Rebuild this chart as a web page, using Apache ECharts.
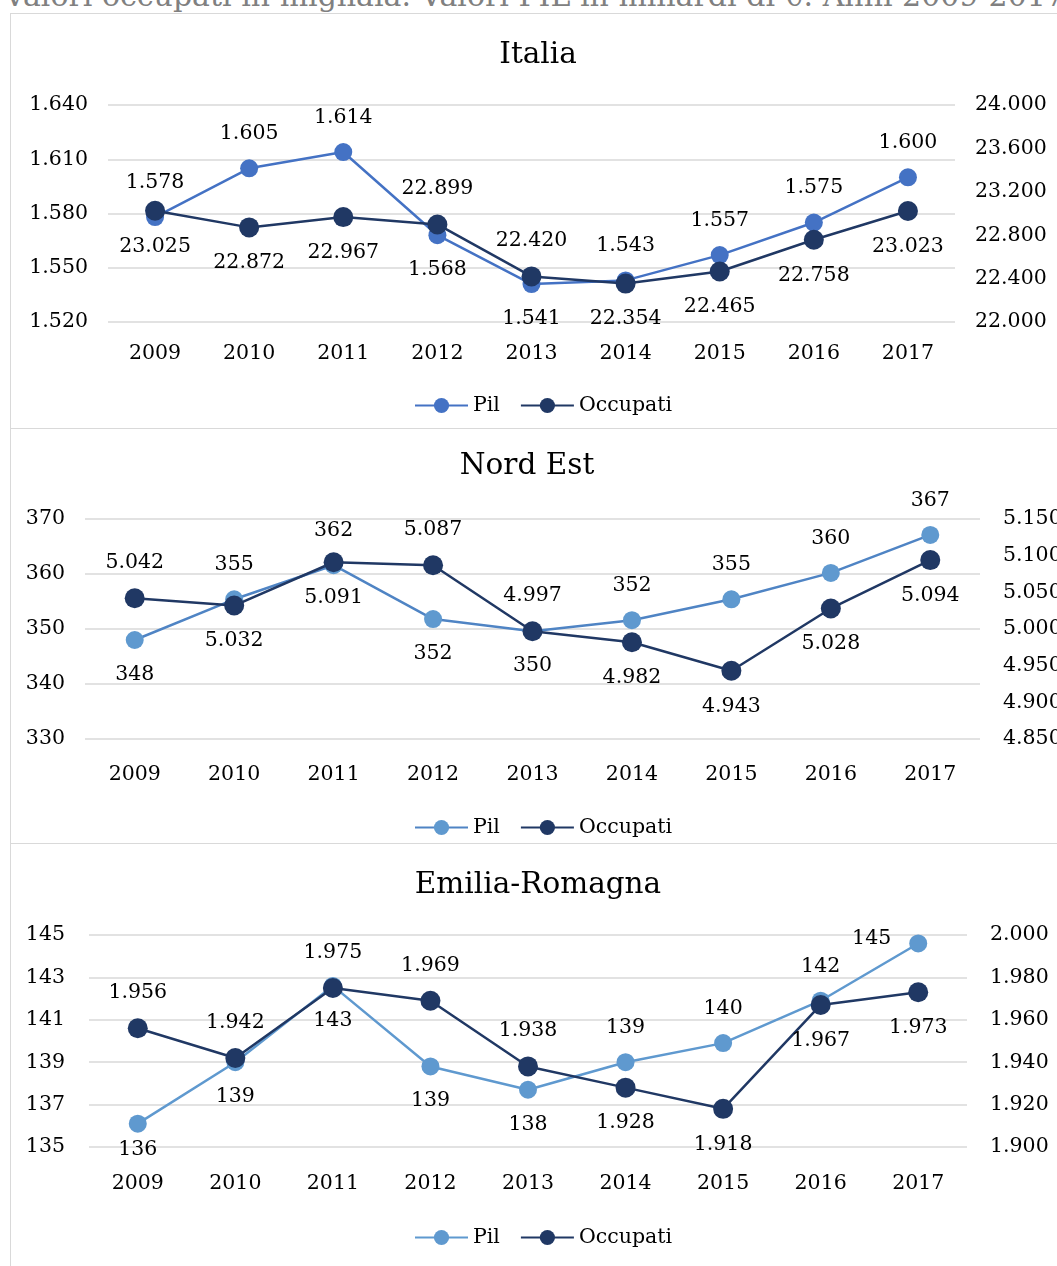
<!DOCTYPE html>
<html>
<head>
<meta charset="utf-8">
<script src="https://cdn.jsdelivr.net/npm/echarts@6/dist/echarts.min.js"></script>
<style>
  body { margin: 0; background: #fff; overflow: hidden; width: 1057px; height: 1266px; position: relative; }
  .note { position: absolute; left: 4px; top: -19px; font: 30px/30px "DejaVu Serif"; color: #808080; white-space: nowrap; }
  .panel { position: absolute; left: 10px; width: 1100px; border: 1px solid #d9d9d9; }
</style>
</head>
<body>
<div class="note">Valori occupati in migliaia. Valori PIL in miliardi di €. Anni 2009-2017</div>
<div id="italia" class="panel" style="top:13px;height:414px"></div>
<div id="nordest" class="panel" style="top:428px;height:414px"></div>
<div id="emilia" class="panel" style="top:843px;height:440px"></div>
<script>
// anni e valori
var anni = ['2009', '2010', '2011', '2012', '2013', '2014', '2015', '2016', '2017'];

var italiaPil = [1578, 1605, 1614, 1568, 1541, 1543, 1557, 1575, 1600];
var italiaOcc = [23025, 22872, 22967, 22899, 22420, 22354, 22465, 22758, 23023];
var nordEstPil = [348.0, 355.4, 361.6, 351.8, 349.6, 351.6, 355.4, 360.2, 367.1];
var nordEstOcc = [5042, 5032, 5091, 5087, 4997, 4982, 4943, 5028, 5094];
var emiliaPil = [136.1, 139.0, 142.6, 138.8, 137.7, 139.0, 139.9, 141.9, 144.6];
var emiliaOcc = [1956, 1942, 1975, 1969, 1938, 1928, 1918, 1967, 1973];

// tick degli assi
var italiaTickSx = [1520, 1550, 1580, 1610, 1640];
var italiaTickDx = [22000, 22400, 22800, 23200, 23600, 24000];
var nordEstTickSx = [330, 340, 350, 360, 370];
var nordEstTickDx = [4850, 4900, 4950, 5000, 5050, 5100, 5150];
var emiliaTickSx = [135, 137, 139, 141, 143, 145];
var emiliaTickDx = [1900, 1920, 1940, 1960, 1980, 2000];

// lato delle etichette
var italiaPilLab = ['top', 'top', 'top', 'bottom', 'bottom', 'top', 'top', 'top', 'top'];
var italiaOccLab = ['bottom', 'bottom', 'bottom', 'top', 'top', 'bottom', 'bottom', 'bottom', 'bottom'];
var nordEstPilLab = ['bottom', 'top', 'top', 'bottom', 'bottom', 'top', 'top', 'top', 'top'];
var nordEstOccLab = ['top', 'bottom', 'bottom', 'top', 'top', 'bottom', 'bottom', 'bottom', 'bottom'];
var emiliaPilLab = ['bottom-near', 'bottom', 'bottom', 'bottom', 'bottom', 'top', 'top', 'top', 'left'];
var emiliaOccLab = ['top', 'top', 'top', 'top', 'top', 'bottom', 'bottom', 'bottom', 'bottom'];

var FONT = '"DejaVu Serif", serif';
var OCC = '#203864';

function fmt(v) {
  return String(Math.round(v)).replace(/\B(?=(\d{3})+(?!\d))/g, '.');
}

function punti(vals, lati) {
  return vals.map(function (v, i) {
    var lab = { position: lati[i] };
    if (lati[i] === 'left') { lab.distance = 18; lab.offset = [0, -5]; }
    if (lati[i] === 'bottom-near') { lab.position = 'bottom'; lab.distance = 6; }
    return { value: v, label: lab };
  });
}

function asse(ticks, margin, pos) {
  return {
    type: 'value',
    position: pos,
    min: ticks[0],
    max: ticks[ticks.length - 1],
    interval: ticks[1] - ticks[0],
    axisLine: { show: false },
    axisTick: { show: false },
    axisLabel: { formatter: fmt, margin: margin, fontSize: 20.5, fontFamily: FONT, color: '#000' },
    splitLine: { show: pos === 'left', lineStyle: { color: '#d9d9d9', width: 1.5 } }
  };
}

function serie(nome, vals, lati, asseY, colLinea, colPunto, size) {
  return {
    name: nome,
    type: 'line',
    yAxisIndex: asseY,
    data: punti(vals, lati),
    symbol: 'circle',
    symbolSize: size,
    lineStyle: { color: colLinea, width: 2.5 },
    itemStyle: { color: colPunto },
    label: { show: true, distance: 15, formatter: function (p) { return fmt(p.value); },
             fontSize: 20.5, fontFamily: FONT, color: '#000' }
  };
}

function disegna(id, c) {
  var chart = echarts.init(document.getElementById(id));
  chart.setOption({
    animation: false,
    graphic: [{
      type: 'text', x: c.titolo[1], y: c.titolo[2],
      style: { text: c.titolo[0], font: '29.5px ' + FONT, fill: '#000', textAlign: 'center', textVerticalAlign: 'middle' }
    }],
    legend: {
      left: 398, top: c.legTop, itemWidth: 53, itemHeight: 19, itemGap: 20,
      textStyle: { fontSize: 20.5, fontFamily: FONT, color: '#000' },
      data: ['Pil', 'Occupati']
    },
    grid: c.grid,
    xAxis: {
      type: 'category', data: anni,
      axisLine: { show: false }, axisTick: { show: false },
      axisLabel: { margin: c.xMargin, fontSize: 20.5, fontFamily: FONT, color: '#000' }
    },
    yAxis: [asse(c.tickSx, c.mSx, 'left'), asse(c.tickDx, c.mDx, 'right')],
    series: [
      serie('Pil', c.pil, c.pilLab, 0, c.pilLinea, c.pilPunto, 18),
      serie('Occupati', c.occ, c.occLab, 1, OCC, OCC, 20)
    ]
  });
}

disegna('italia', {
  titolo: ['Italia', 527, 41], legTop: 376,
  grid: { left: 97, top: 91, width: 847, height: 217 }, xMargin: 21, mSx: 20, mDx: 20,
  tickSx: italiaTickSx, tickDx: italiaTickDx,
  pil: italiaPil, occ: italiaOcc, pilLab: italiaPilLab, occLab: italiaOccLab,
  pilLinea: '#4472C4', pilPunto: '#4472C4'
});

disegna('nordest', {
  titolo: ['Nord Est', 516, 37], legTop: 383,
  grid: { left: 74, top: 90, width: 895, height: 220 }, xMargin: 25, mSx: 20, mDx: 23,
  tickSx: nordEstTickSx, tickDx: nordEstTickDx,
  pil: nordEstPil, occ: nordEstOcc, pilLab: nordEstPilLab, occLab: nordEstOccLab,
  pilLinea: '#4F84C4', pilPunto: '#5F99CF'
});

disegna('emilia', {
  titolo: ['Emilia-Romagna', 527, 41], legTop: 378,
  grid: { left: 78, top: 91, width: 878, height: 212 }, xMargin: 26, mSx: 24, mDx: 23,
  tickSx: emiliaTickSx, tickDx: emiliaTickDx,
  pil: emiliaPil, occ: emiliaOcc, pilLab: emiliaPilLab, occLab: emiliaOccLab,
  pilLinea: '#5F99CF', pilPunto: '#5F99CF'
});
</script>
</body>
</html>
